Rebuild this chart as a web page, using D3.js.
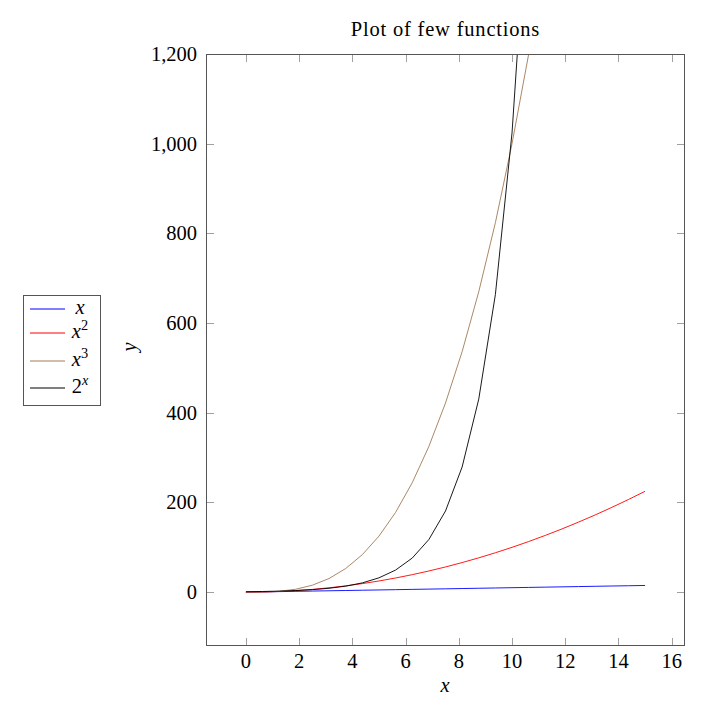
<!DOCTYPE html>
<html><head><meta charset="utf-8">
<script src="https://cdn.jsdelivr.net/npm/d3@7"></script>
<style>
body{margin:0;background:#fff;}
text{font-family:"Liberation Serif","Times New Roman",serif;fill:#000;}
</style></head>
<body><svg id="c" width="708" height="712"></svg>
<script>
const xs = [0,0.625,1.25,1.875,2.5,3.125,3.75,4.375,5,5.625,6.25,6.875,7.5,8.125,8.75,9.375,10,10.625,11.25,11.875,12.5,13.125,13.75,14.375,15];
const yLin = [0,0.625,1.25,1.875,2.5,3.125,3.75,4.375,5,5.625,6.25,6.875,7.5,8.125,8.75,9.375,10,10.625,11.25,11.875,12.5,13.125,13.75,14.375,15];
const ySq = [0,0.391,1.563,3.516,6.25,9.766,14.063,19.141,25,31.641,39.063,47.266,56.25,66.016,76.563,87.891,100,112.891,126.563,141.016,156.25,172.266,189.063,206.641,225];
const yCube = [0,0.244,1.953,6.592,15.625,30.518,52.734,83.740,125,177.979,244.141,324.951,421.875,536.377,669.922,823.975,1000,1199.463,1423.828,1674.561,1953.125,2261.353,2599.609,2970.459,3375];
const yExp = [1,1.542,2.378,3.668,5.657,8.724,13.454,20.749,32,49.350,76.109,117.376,181.019,279.170,430.539,663.980,1024,1579.2,2435.5,3756.1,5792.6,8933.3,13777.9,21247.7,32768];
const xTicks = [0,2,4,6,8,10,12,14,16];
const yTicks = [0,200,400,600,800,1000,1200];

const series = [
  {v:yLin, color:"#0000ff"},
  {v:ySq, color:"#ff0000"},
  {v:yCube, color:"#a07a55"},
  {v:yExp, color:"#000000"}
];

const svg = d3.select("#c");
const L=206,R=685,T=54,B=646;
const x = d3.scaleLinear().domain([-1.5,16.5]).range([L,R]);
const y = d3.scaleLinear().domain([-120,1200]).range([B,T]);
const fs = 20.5;

svg.append("defs").append("clipPath").attr("id","clip")
  .append("rect").attr("x",L).attr("y",T).attr("width",R-L).attr("height",B-T);

// ticks (inward, all sides)
const tk = 8;
const tg = svg.append("g").attr("stroke","#a0a0a0").attr("stroke-width",1);
xTicks.forEach(t=>{
  const px = Math.round(x(t))+0.5;
  tg.append("line").attr("x1",px).attr("x2",px).attr("y1",B).attr("y2",B-tk);
  tg.append("line").attr("x1",px).attr("x2",px).attr("y1",T).attr("y2",T+tk);
});
yTicks.forEach(t=>{
  const py = Math.round(y(t))+0.5;
  tg.append("line").attr("x1",L).attr("x2",L+tk).attr("y1",py).attr("y2",py);
  tg.append("line").attr("x1",R).attr("x2",R-tk).attr("y1",py).attr("y2",py);
});

// curves
const line = d3.line().x((d,i)=>x(xs[i])).y(d=>y(d));
const cg = svg.append("g").attr("clip-path","url(#clip)");
series.forEach(s=>{
  cg.append("path").datum(s.v).attr("d",line).attr("fill","none")
    .attr("stroke",s.color).attr("stroke-width",0.9);
});

// frame
svg.append("rect").attr("x",L+0.5).attr("y",T+0.5).attr("width",R-L-1).attr("height",B-T-1)
  .attr("fill","none").attr("stroke","#555").attr("stroke-width",1);

// tick labels
xTicks.forEach(t=>{
  svg.append("text").attr("x",x(t)).attr("y",B+22).attr("text-anchor","middle")
    .attr("font-size",fs).text(d3.format(",")(t));
});
yTicks.forEach(t=>{
  svg.append("text").attr("x",L-9).attr("y",y(t)+7).attr("text-anchor","end")
    .attr("font-size",fs).text(d3.format(",")(t));
});

// title & axis labels
svg.append("text").attr("x",445.5).attr("y",36).attr("text-anchor","middle")
  .attr("font-size",fs).attr("letter-spacing",0.8).text("Plot of few functions");
svg.append("text").attr("x",445).attr("y",692).attr("text-anchor","middle")
  .attr("font-size",fs).attr("font-style","italic").text("x");
svg.append("text").attr("transform","translate(136,347) rotate(-90)").attr("text-anchor","middle")
  .attr("font-size",fs).attr("font-style","italic").text("y");

// legend
const lg = svg.append("g");
lg.append("rect").attr("x",23.5).attr("y",295.5).attr("width",77).attr("height",110)
  .attr("fill","#fff").attr("stroke","#555").attr("stroke-width",1);
const ly = [309,333,361,388];
const labels = [
  {base:"x", sup:null, baseItalic:true},
  {base:"x", sup:"2", baseItalic:true},
  {base:"x", sup:"3", baseItalic:true},
  {base:"2", sup:"x", baseItalic:false}
];
series.forEach((s,i)=>{
  lg.append("line").attr("x1",30).attr("x2",65).attr("y1",ly[i]).attr("y2",ly[i])
    .attr("stroke",s.color).attr("stroke-width",1);
  const lb = labels[i];
  const t = lg.append("text").attr("x",80).attr("y",ly[i]+5).attr("text-anchor","middle").attr("font-size",fs);
  t.append("tspan").attr("font-style",lb.baseItalic?"italic":"normal").text(lb.base);
  if(lb.sup){
    t.append("tspan").attr("font-size",fs*0.7).attr("dy",-8)
      .attr("font-style",lb.baseItalic?"normal":"italic").text(lb.sup);
  }
});
</script></body></html>
